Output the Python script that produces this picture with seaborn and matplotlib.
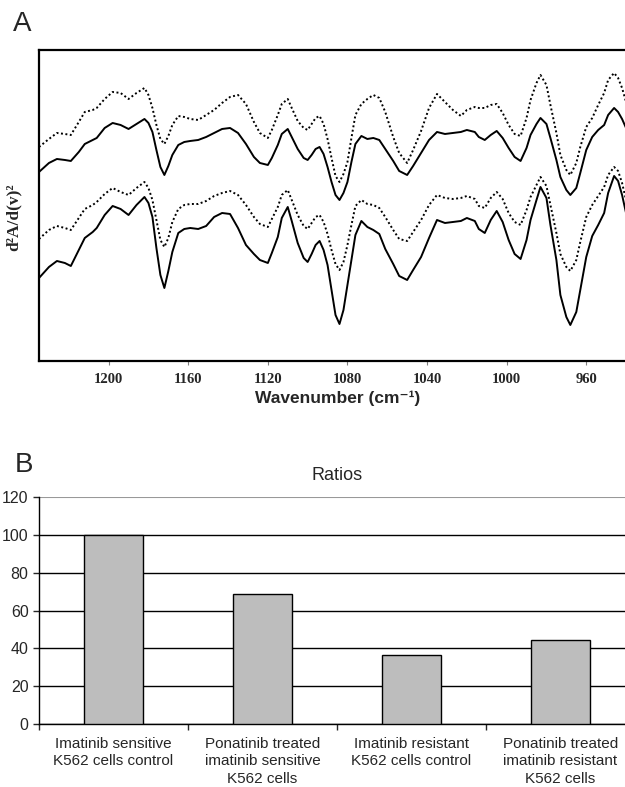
import matplotlib
matplotlib.use("Agg")
import matplotlib.pyplot as plt
import numpy as np
import pandas as pd
import seaborn as sns

# ==========================================
# 1. Data
# ==========================================
# Panel A: second-derivative spectra, arbitrary units (curves offset for display)
wavenumber = [1235, 1230, 1226, 1222, 1219, 1215, 1212, 1208, 1206, 1202,
              1198, 1194, 1190, 1186, 1182, 1180, 1178, 1176, 1174, 1172,
              1170, 1168, 1165, 1162, 1159, 1155, 1151, 1147, 1143, 1139,
              1135, 1131, 1127, 1124, 1120, 1118, 1115, 1113, 1110, 1108,
              1105, 1102, 1100, 1098, 1096, 1094, 1092, 1090, 1088, 1086,
              1084, 1082, 1080, 1078, 1076, 1073, 1070, 1067, 1064, 1061,
              1057, 1054, 1050, 1047, 1043, 1039, 1035, 1031, 1027, 1023,
              1020, 1016, 1014, 1011, 1008, 1005, 1002, 999, 996, 993,
              990, 988, 985, 983, 980, 978, 975, 973, 970, 968,
              965, 963, 960, 957, 954, 951, 949, 946, 944, 942,
              940]

upper_dotted = [214, 222, 228, 227, 226, 239, 249, 251, 253, 262,
                269, 268, 262, 268, 273, 266, 253, 236, 222, 217,
                225, 236, 245, 244, 242, 241, 246, 251, 258, 264,
                266, 257, 239, 228, 223, 231, 246, 257, 262, 253,
                240, 233, 231, 237, 243, 245, 237, 222, 203, 185,
                179, 187, 199, 223, 246, 257, 262, 266, 263, 249,
                224, 208, 198, 211, 230, 253, 267, 259, 251, 245,
                251, 254, 253, 253, 256, 257, 248, 236, 227, 225,
                243, 261, 278, 286, 276, 256, 228, 206, 191, 186,
                198, 214, 234, 243, 256, 268, 281, 288, 283, 273,
                259]

upper_solid = [189, 198, 202, 201, 200, 209, 217, 221, 223, 233,
               238, 236, 232, 237, 242, 238, 229, 211, 194, 186,
               195, 206, 216, 219, 220, 221, 224, 228, 232, 233,
               228, 217, 204, 198, 196, 203, 216, 227, 232, 224,
               212, 203, 201, 206, 212, 214, 207, 194, 179, 166,
               161, 168, 179, 199, 217, 225, 222, 223, 221, 212,
               200, 190, 186, 195, 208, 221, 229, 227, 228, 229,
               231, 229, 224, 221, 226, 230, 223, 213, 204, 200,
               213, 226, 237, 243, 237, 223, 201, 184, 171, 166,
               173, 188, 211, 224, 231, 236, 246, 253, 249, 242,
               233]

lower_dotted = [122, 131, 135, 133, 131, 143, 152, 156, 159, 167,
                173, 169, 166, 173, 179, 173, 161, 141, 121, 114,
                123, 139, 152, 156, 157, 157, 160, 165, 168, 170,
                166, 156, 144, 137, 134, 142, 154, 166, 171, 161,
                146, 135, 132, 138, 144, 146, 139, 127, 111, 97,
                91, 99, 116, 136, 155, 161, 157, 156, 153, 144,
                131, 122, 120, 129, 141, 156, 166, 163, 162, 163,
                165, 162, 155, 153, 163, 169, 162, 148, 139, 136,
                151, 164, 176, 184, 175, 156, 128, 107, 94, 90,
                101, 119, 144, 156, 165, 174, 186, 194, 190, 178,
                161]

lower_solid = [83, 94, 100, 98, 95, 111, 123, 129, 133, 146,
               155, 152, 146, 156, 164, 158, 144, 113, 86, 73,
               90, 109, 128, 132, 133, 132, 135, 144, 148, 147,
               133, 116, 107, 101, 98, 108, 124, 143, 154, 140,
               118, 103, 99, 107, 116, 120, 111, 96, 71, 46,
               37, 51, 76, 101, 126, 140, 134, 131, 127, 112,
               97, 85, 81, 91, 104, 123, 141, 138, 139, 140,
               143, 140, 132, 128, 141, 150, 139, 121, 107, 102,
               121, 141, 161, 174, 163, 136, 101, 66, 44, 36,
               49, 71, 104, 125, 136, 148, 168, 185, 180, 166,
               148]

xticks_a = [1200, 1160, 1120, 1080, 1040, 1000, 960]

# Panel B: ratios
groups = ["Imatinib sensitive\nK562 cells control",
          "Ponatinib treated\nimatinib sensitive\nK562 cells",
          "Imatinib resistant\nK562 cells control",
          "Ponatinib treated\nimatinib resistant\nK562 cells"]
ratios = [100, 69, 36.5, 44.6]
yticks_b = [0, 20, 40, 60, 80, 100, 120]

# ==========================================
# 2. Style
# ==========================================
sns.set_style("white")
plt.rcParams["font.family"] = ["Liberation Sans", "DejaVu Sans"]

fig = plt.figure(figsize=(6.25, 7.87), dpi=100)

# ==========================================
# 3. Panel A - spectra
# ==========================================
n = len(wavenumber)
spectra = pd.DataFrame({
    "wavenumber": wavenumber * 4,
    "value": upper_dotted + upper_solid + lower_dotted + lower_solid,
    "trace": (["upper_dotted"] * n + ["upper_solid"] * n
              + ["lower_dotted"] * n + ["lower_solid"] * n),
})

ax_a = fig.add_axes([0.0624, 0.5413, 0.9552, 0.3952])
dotted = (0, (1, 1.3))
line_styles = {"upper_dotted": dotted, "upper_solid": "-",
               "lower_dotted": dotted, "lower_solid": "-"}
for name, ls in line_styles.items():
    sns.lineplot(data=spectra[spectra["trace"] == name], x="wavenumber", y="value",
                 ax=ax_a, color="black", linestyle=ls, linewidth=1.4,
                 estimator=None, sort=False)
for ln in ax_a.get_lines():
    ln.set_solid_joinstyle("round")

ax_a.set_xlim(1235, 935)
ax_a.set_ylim(0, 311)
ax_a.set_xticks(xticks_a)
ax_a.set_xticklabels([str(t) for t in xticks_a], family="Liberation Serif",
                     fontweight="bold", fontsize=10.5)
ax_a.set_yticks([])
ax_a.tick_params(axis="x", direction="out", length=3, width=0.8, color="0.5",
                 pad=6, bottom=True)
for side in ["top", "left", "bottom"]:
    ax_a.spines[side].set_linewidth(1.6)
    ax_a.spines[side].set_color("black")
ax_a.spines["right"].set_visible(False)
ax_a.set_xlabel("Wavenumber (cm⁻¹)", fontsize=12.5, fontweight="bold", labelpad=3)
ax_a.set_ylabel("")
fig.text(0.0224, 0.7243, "d²A/d(v)²", rotation=90, ha="center", va="center",
         family="Liberation Serif", fontweight="bold", fontsize=12.5)
fig.text(0.021, 0.9695, "A", ha="left", va="center", fontsize=20)

# ==========================================
# 4. Panel B - ratio bars
# ==========================================
ratio_df = pd.DataFrame({"group": groups, "ratio": ratios})

ax_b = fig.add_axes([0.0624, 0.0800, 0.9536, 0.2884])
sns.barplot(data=ratio_df, x="group", y="ratio", ax=ax_b, color="#bdbdbd",
            saturation=1, width=0.4, edgecolor="black", linewidth=1.0, zorder=3)

ax_b.set_ylim(0, 120)
ax_b.set_xlim(-0.5, 3.5)
ax_b.set_yticks(yticks_b)
ax_b.tick_params(axis="y", labelsize=11.5, direction="out", length=4, width=1,
                 pad=3.5, left=True)
ax_b.tick_params(axis="x", which="major", labelsize=11, length=0, pad=9)
ax_b.set_xticks(np.arange(-0.5, 4, 1), minor=True)
ax_b.tick_params(axis="x", which="minor", direction="out", length=4, width=1,
                 bottom=True)
for lbl in ax_b.get_xticklabels():
    lbl.set_linespacing(1.35)

ax_b.yaxis.grid(True, color="black", linewidth=1.0, zorder=0)
ax_b.set_axisbelow(True)
ax_b.get_ygridlines()[-1].set_color("0.6")
ax_b.get_ygridlines()[-1].set_linewidth(1.5)
ax_b.spines["top"].set_visible(False)
ax_b.spines["right"].set_visible(False)
ax_b.spines["left"].set_color("black")
ax_b.spines["bottom"].set_color("black")
ax_b.spines["left"].set_linewidth(1.0)
ax_b.spines["bottom"].set_linewidth(1.0)
ax_b.set_xlabel("")
ax_b.set_ylabel("")
ax_b.set_title("Ratios", fontsize=13, pad=12)
fig.text(0.024, 0.409, "B", ha="left", va="center", fontsize=20)

fig.savefig("out.png", dpi=100)
plt.close(fig)
